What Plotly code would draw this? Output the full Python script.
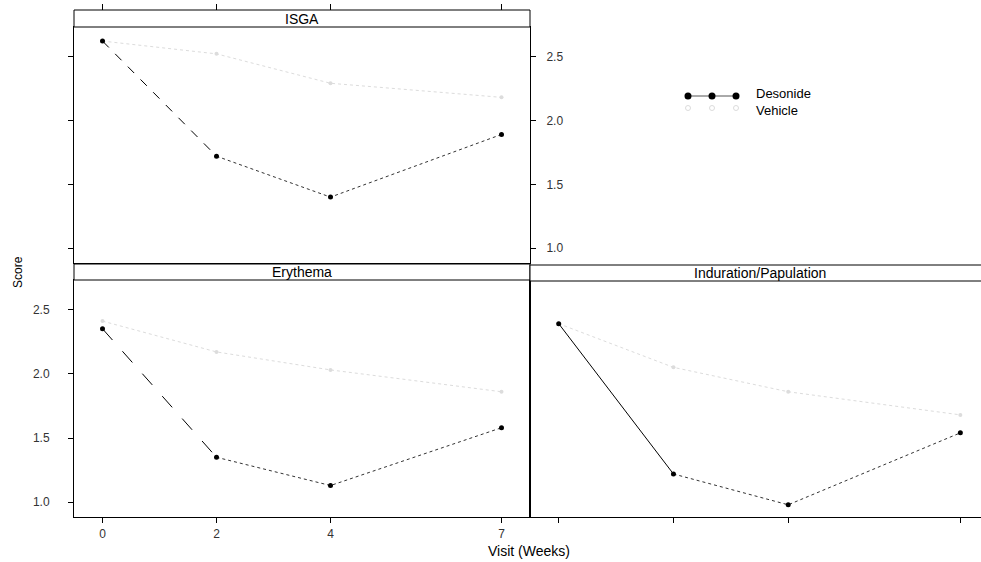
import plotly.graph_objects as go

# ---- data ----
visits = [0, 2, 4, 7]
visit_labels = ["0", "2", "4", "7"]
panels = ["ISGA", "Erythema", "Induration/Papulation"]
isga_desonide = [2.62, 1.72, 1.40, 1.89]
isga_vehicle = [2.62, 2.52, 2.29, 2.18]
ery_desonide = [2.35, 1.35, 1.13, 1.58]
ery_vehicle = [2.41, 2.17, 2.03, 1.86]
ind_desonide = [2.39, 1.22, 0.98, 1.54]
ind_vehicle = [2.39, 2.05, 1.86, 1.68]
y_ticks = [1.0, 1.5, 2.0, 2.5]
y_tick_labels = ["1.0", "1.5", "2.0", "2.5"]

W, H = 981, 562
FONT = "Liberation Sans, Arial, sans-serif"
VEH = "#dcdcdc"

def px(x):
    return x / W

def py(y):
    return 1 - y / H

fig = go.Figure()

series = [
    (isga_desonide, isga_vehicle, "x", "y", "dash"),
    (ery_desonide, ery_vehicle, "x2", "y2", "longdash"),
    (ind_desonide, ind_vehicle, "x3", "y3", "solid"),
]
for des, veh, xa, ya, first_dash in series:
    # Vehicle (faint)
    fig.add_trace(go.Scatter(x=visits, y=veh, xaxis=xa, yaxis=ya, mode="lines+markers",
                             line=dict(color=VEH, width=1, dash="dot"),
                             marker=dict(color=VEH, size=4), showlegend=False))
    # Desonide first segment
    fig.add_trace(go.Scatter(x=visits[:2], y=des[:2], xaxis=xa, yaxis=ya, mode="lines",
                             line=dict(color="black", width=1, dash=first_dash), showlegend=False))
    # Desonide remaining segments
    fig.add_trace(go.Scatter(x=visits[1:], y=des[1:], xaxis=xa, yaxis=ya, mode="lines",
                             line=dict(color="#333", width=1, dash="dot"), showlegend=False))
    fig.add_trace(go.Scatter(x=visits, y=des, xaxis=xa, yaxis=ya, mode="markers",
                             marker=dict(color="black", size=5), showlegend=False))

yr = [0.885, 2.73]
xr = [-0.5, 7.5]
xr3 = [-0.5, 7.5 - 8 / 57]

dx_left = [px(74), px(530)]
dx_right = [px(530), 1.0]
dy_top = [py(263), py(27)]
dy_bot = [py(517), py(280)]

tickfont = dict(family=FONT, size=12, color="#333")
base = dict(showgrid=False, zeroline=False, showline=True, linecolor="black",
            linewidth=1, ticklen=5, tickcolor="black", tickfont=tickfont, automargin=False)

fig.update_layout(
    width=W, height=H, margin=dict(l=0, r=0, t=0, b=0),
    plot_bgcolor="white", paper_bgcolor="white", showlegend=False,
    xaxis=dict(domain=dx_left, anchor="y", range=xr, tickvals=visits, showticklabels=False,
               ticks="", mirror=True, **base),
    yaxis=dict(domain=dy_top, anchor="x", range=yr, tickvals=y_ticks, ticktext=y_tick_labels,
               side="right", mirror="allticks", ticks="outside", ticklabelstandoff=8, **base),
    xaxis2=dict(domain=dx_left, anchor="y2", range=xr, tickvals=visits, ticktext=visit_labels,
                mirror=True, ticks="outside", ticklabelstandoff=1, **base),
    yaxis2=dict(domain=dy_bot, anchor="x2", range=yr, tickvals=y_ticks, ticktext=y_tick_labels,
                mirror=True, ticks="outside", ticklabelstandoff=16, **base),
    xaxis3=dict(domain=dx_right, anchor="y3", range=xr3, tickvals=visits, showticklabels=False,
                mirror=True, ticks="outside", **base),
    yaxis3=dict(domain=dy_bot, anchor="x3", range=yr, tickvals=y_ticks, showticklabels=False,
                mirror=True, ticks="", **base),
)

shapes = []
annotations = []
# strips
strips = [
    (panels[0], dx_left, [py(27), py(10)], px(302)),
    (panels[1], dx_left, [py(280), py(264)], px(302)),
    (panels[2], [px(530), 1.0], [py(281), py(265)], px(760)),
]
for name, xd, yd, cx in strips:
    shapes.append(dict(type="rect", xref="paper", yref="paper", x0=xd[0], x1=xd[1] + (0.01 if xd[1] >= 1 else 0),
                       y0=yd[0], y1=yd[1], line=dict(color="black", width=1), fillcolor="white"))
    annotations.append(dict(text=name, xref="paper", yref="paper", x=cx,
                            y=(yd[0] + yd[1]) / 2, showarrow=False,
                            font=dict(family=FONT, size=14, color="black"), xanchor="center", yanchor="middle"))

# top ticks above the ISGA strip
for v in visits:
    shapes.append(dict(type="line", xref="x", yref="paper", x0=v, x1=v, y0=py(10), y1=py(4),
                       line=dict(color="black", width=1)))

# legend
leg_x = [688, 712, 736]
shapes.append(dict(type="line", xref="paper", yref="paper", x0=px(leg_x[0]), x1=px(leg_x[-1]),
                   y0=py(96), y1=py(96), line=dict(color="#555", width=1)))
for lx in leg_x:
    r = 3.5
    shapes.append(dict(type="circle", xref="paper", yref="paper", x0=px(lx - r), x1=px(lx + r),
                       y0=py(96 + r), y1=py(96 - r), fillcolor="black", line=dict(color="black", width=0)))
    r2 = 2.5
    shapes.append(dict(type="circle", xref="paper", yref="paper", x0=px(lx - r2), x1=px(lx + r2),
                       y0=py(108 + r2), y1=py(108 - r2), fillcolor="white", line=dict(color=VEH, width=1)))
annotations.append(dict(text="Desonide", xref="paper", yref="paper", x=px(755), y=py(102), showarrow=False,
                        xanchor="left", yanchor="bottom", font=dict(family=FONT, size=13, color="black"),
                        borderpad=0))
annotations.append(dict(text="Vehicle", xref="paper", yref="paper", x=px(755), y=py(102), showarrow=False,
                        xanchor="left", yanchor="top", font=dict(family=FONT, size=13, color="black"),
                        borderpad=0))

# axis titles
annotations.append(dict(text="Score", xref="paper", yref="paper", x=px(18), y=py(272), showarrow=False,
                        textangle=-90, xanchor="center", yanchor="middle",
                        font=dict(family=FONT, size=12, color="black")))
annotations.append(dict(text="Visit (Weeks)", xref="paper", yref="paper", x=px(529), y=py(551), showarrow=False,
                        xanchor="center", yanchor="middle",
                        font=dict(family=FONT, size=14, color="black")))

fig.update_layout(shapes=shapes, annotations=annotations)
fig.write_html("out.html", config={"displayModeBar": False},
               post_script="document.body.style.margin='0px';document.body.style.overflow='hidden';")
